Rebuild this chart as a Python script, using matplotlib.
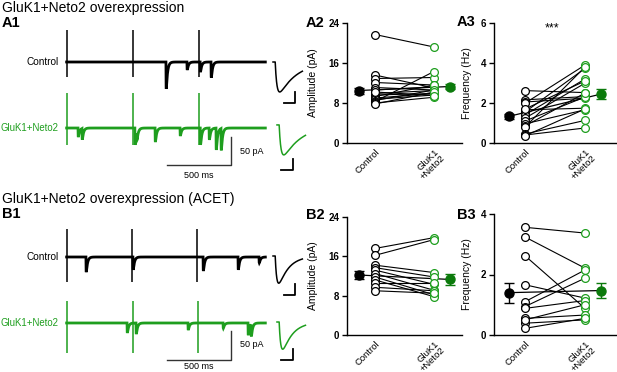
import matplotlib.pyplot as plt
import numpy as np

plt.rcParams['font.family'] = ['Liberation Sans', 'DejaVu Sans']

W, H = 617, 372
GREEN = '#1e9e1e'
DKGREEN = '#0b7a0b'

groups = ['Control', 'GluK1\n+Neto2']

# ---- paired data ----
a2_ctrl = [21.7, 13.6, 12.9, 12.1, 11.1, 10.6, 9.9, 9.6, 9.3, 9.0, 8.75, 8.5, 8.3, 8.0, 7.8, 10.2]
a2_neto = [19.2, 11.0, 13.1, 11.6, 10.6, 11.2, 10.5, 9.9, 11.6, 9.9, 9.6, 10.6, 14.3, 9.15, 10.2, 9.5]
a2_mean = [10.5, 11.3]
a2_sem = [0.6, 0.5]

a3_ctrl = [2.62, 2.16, 2.05, 1.99, 1.66, 1.55, 1.41, 1.24, 1.1, 0.96, 0.85, 0.8, 0.45, 0.4, 0.36, 1.7]
a3_neto = [2.52, 2.32, 2.24, 3.9, 1.74, 3.73, 3.2, 2.99, 2.3, 1.66, 2.5, 3.8, 1.13, 0.75, 1.7, 3.1]
a3_mean = [1.33, 2.45]
a3_sem = [0.12, 0.25]

b2_ctrl = [17.6, 16.2, 14.2, 13.7, 13.2, 12.5, 11.8, 11.2, 10.5, 9.7, 9.0]
b2_neto = [19.8, 19.4, 12.7, 11.8, 10.3, 9.1, 8.2, 7.8, 10.5, 9.0, 8.5]
b2_mean = [12.2, 11.3]
b2_sem = [0.8, 1.2]

b3_ctrl = [3.56, 3.24, 2.62, 1.66, 1.1, 0.94, 0.88, 0.55, 0.39, 0.22, 0.5]
b3_neto = [3.37, 2.21, 0.88, 1.22, 2.15, 1.88, 1.14, 0.66, 0.5, 0.55, 1.0]
b3_mean = [1.40, 1.47]
b3_sem = [0.33, 0.25]

# ---- example traces: stimulus artifacts and EPSC events (ms, pA) ----
a1_ctrl_stim = [0, 516, 1031]
a1_ctrl_ev_t = [773, 937, 1040, 1125]
a1_ctrl_ev_amp = [48, 14, 18, 28]
a1_neto_stim = [0, 516, 1031]
a1_neto_ev_t = [86, 117, 530, 545, 688, 883, 1041, 1110, 1164, 1203]
a1_neto_ev_amp = [16, 20, 30, 14, 25, 14, 30, 21, 39, 39]

b1_ctrl_stim = [0, 508, 1016]
b1_ctrl_ev_t = [148, 515, 1063, 1336, 1500]
b1_ctrl_ev_amp = [26, 22, 24, 22, 10]
b1_neto_stim = [0, 516, 1023]
b1_neto_ev_t = [469, 539, 945, 1219, 1414, 1438]
b1_neto_ev_amp = [17, 19, 12, 9, 21, 21]

# averaged EPSCs: amplitude (pA), decay tau (ms)
avg_a_amp = [13.6, 13.6]
avg_a_td = [8.0, 8.5]
avg_b_amp = [12.3, 12.3]
avg_b_td = [4.5, 4.5]


def px(x, y):
    return x / W, 1 - y / H


def kernel(t, onset, amp, tr, td):
    s = np.clip(t - onset, 0, None)
    tp = tr * td / (td - tr) * np.log(td / tr)
    kmax = (1 - np.exp(-tp / tr)) * np.exp(-tp / td)
    return -amp * (1 - np.exp(-s / tr)) * np.exp(-s / td) / kmax


def build(t, ev_t, ev_amp):
    y = np.zeros_like(t)
    for on, a in zip(ev_t, ev_amp):
        y += kernel(t, on, a, 1.0, 10.0)
    return y


fig = plt.figure(figsize=(W / 100, H / 100), dpi=100)


def trace_panel(top, bot, base_px, pa_px, ctrl, neto, offset, art, bars):
    x0, y0 = px(60, bot)
    ax = fig.add_axes([x0, y0, 210 / W, (bot - top) / H])
    ms_px = 500 / 64
    ax.set_xlim(-7 * ms_px, 203 * ms_px)
    ax.set_ylim(-(bot - base_px) * pa_px, (base_px - top) * pa_px)
    t = np.arange(-3, 1550, 0.5)
    for (stim, ev_t, ev_amp), off, col, (up, dn) in zip([ctrl, neto], [0, offset],
                                                        ['k', GREEN], art):
        ax.plot(t, build(t, ev_t, ev_amp) + off, color=col, lw=2.0, solid_joinstyle='miter')
        ax.vlines(stim, off - dn, off + up, color=col, lw=1.1)
    ax.text(-62, 0, 'Control', ha='right', va='center', fontsize=7.2, clip_on=False)
    fig.text(0.5 / W, 1 - (base_px - offset / pa_px) / H, 'GluK1+Neto2', ha='left',
             va='center', fontsize=6.9, color=GREEN)
    ybar, ytxt, ymstxt = bars
    ax.plot([781, 1281, 1281], [ybar, ybar, ybar + 50], color='#333333', lw=1)
    ax.text(1355, ytxt, '50 pA', ha='left', va='center', fontsize=6.5)
    ax.text(1031, ymstxt, '500 ms', ha='center', va='center', fontsize=6.5, clip_on=False)
    ax.axis('off')
    return ax


trace_panel(25, 180, 62, 1.786, (a1_ctrl_stim, a1_ctrl_ev_t, a1_ctrl_ev_amp),
            (a1_neto_stim, a1_neto_ev_t, a1_neto_ev_amp), -117.9,
            [(57, 27), (62, 30)], (-184, -159, -202))
trace_panel(222, 372, 257, 1.72, (b1_ctrl_stim, b1_ctrl_ev_t, b1_ctrl_ev_amp),
            (b1_neto_stim, b1_neto_ev_t, b1_neto_ev_amp), -113.5,
            [(48, 43), (38, 52)], (-177, -151, -189))


def avg_panel(top, bot, base_px, amps, tds, green_off, bars):
    x0, y0 = px(266, bot)
    ax = fig.add_axes([x0, y0, 48 / W, (bot - top) / H])
    k = 0.4545
    ax.set_xlim(-7 * k, 41 * k)
    ax.set_ylim(-(bot - base_px) * k, (base_px - top) * k)
    t = np.arange(0, 13.4, 0.05)
    ax.plot(t, kernel(t, 1.0, amps[0], 0.9, tds[0]), color='k', lw=1.1)
    t2 = np.arange(1.8, 14.8, 0.05)
    ax.plot(t2, kernel(t2, 2.8, amps[1], 0.9, tds[1]) + green_off, color=GREEN, lw=1.1)
    for yb, x1, x2 in bars:
        ax.plot([x1, x2, x2], [yb, yb, yb + 5], color='k', lw=1.3)
    ax.axis('off')


avg_panel(50, 180, 62, avg_a_amp, avg_a_td, -28.6, [(-18.6, 5, 10), (-49.1, 3.6, 9.1)])
avg_panel(240, 372, 256, avg_b_amp, avg_b_td, -30.0, [(-17.7, 5, 10), (-47.3, 3.6, 9.1)])


def paired(rect, xlim, ctrl, neto, mean, sem, ymax, yticks, ylabel, lab_x):
    ax = fig.add_axes(rect)
    for c, n in zip(ctrl, neto):
        ax.plot([0, 1], [c, n], color='k', lw=0.8, zorder=1)
    ax.plot(np.zeros(len(ctrl)), ctrl, 'o', mfc='white', mec='k', ms=5.6, mew=0.9, zorder=3)
    ax.plot(np.ones(len(neto)), neto, 'o', mfc='white', mec=GREEN, ms=5.6, mew=0.9, zorder=3)
    ax.plot([-0.27, 1.27], mean, color='k', lw=0.9, zorder=2)
    ax.errorbar(-0.27, mean[0], yerr=sem[0], fmt='o', color='k', ms=6.5,
                capsize=3.5, elinewidth=1, capthick=1, zorder=4)
    ax.errorbar(1.27, mean[1], yerr=sem[1], fmt='o', color=DKGREEN, ms=6.5,
                capsize=3.5, elinewidth=1, capthick=1, zorder=4)
    ax.set_xlim(*xlim)
    ax.set_ylim(0, ymax)
    ax.set_yticks(yticks)
    ax.set_xticks([0, 1])
    ax.set_xticklabels(groups, rotation=45, ha='right', rotation_mode='anchor',
                       fontsize=6.8, linespacing=0.95)
    ax.tick_params(axis='x', length=0, pad=3)
    ax.tick_params(axis='y', length=3.5, width=1, pad=2, labelsize=7)
    for lbl in ax.get_yticklabels():
        lbl.set_fontweight('bold')
    for s in ['top', 'right']:
        ax.spines[s].set_visible(False)
    for s in ['left', 'bottom']:
        ax.spines[s].set_linewidth(1)
    ax.set_ylabel(ylabel, fontsize=7.5)
    ax.yaxis.set_label_coords(lab_x, 0.5)
    return ax


paired([347 / W, 1 - 143 / H, 115 / W, 120 / H], (-0.475, 1.475), a2_ctrl, a2_neto,
       a2_mean, a2_sem, 24, [0, 8, 16, 24], 'Amplitude (pA)', -0.25)
ax3 = paired([494 / W, 1 - 143 / H, 123 / W, 120 / H], (-0.517, 1.533), a3_ctrl, a3_neto,
             a3_mean, a3_sem, 6, [0, 2, 4, 6], 'Frequency (Hz)', -0.18)
ax3.text(0.45, 5.75, '***', ha='center', va='center', fontsize=9)
paired([347 / W, 1 - 335 / H, 115 / W, 118 / H], (-0.475, 1.475), b2_ctrl, b2_neto,
       b2_mean, b2_sem, 24, [0, 8, 16, 24], 'Amplitude (pA)', -0.25)
paired([494 / W, 1 - 335 / H, 123 / W, 121 / H], (-0.517, 1.533), b3_ctrl, b3_neto,
       b3_mean, b3_sem, 4, [0, 2, 4], 'Frequency (Hz)', -0.18)

fig.text(*px(2, 8), 'GluK1+Neto2 overexpression', fontsize=10, va='center')
fig.text(*px(2, 199), 'GluK1+Neto2 overexpression (ACET)', fontsize=10, va='center')
for lab, x, y in [('A1', 2, 23), ('A2', 306, 23), ('A3', 457, 22),
                  ('B1', 2, 214), ('B2', 306, 215), ('B3', 457, 215)]:
    fig.text(*px(x, y), lab, fontsize=10.5, fontweight='bold', va='center')

fig.savefig('out.png', dpi=100)
